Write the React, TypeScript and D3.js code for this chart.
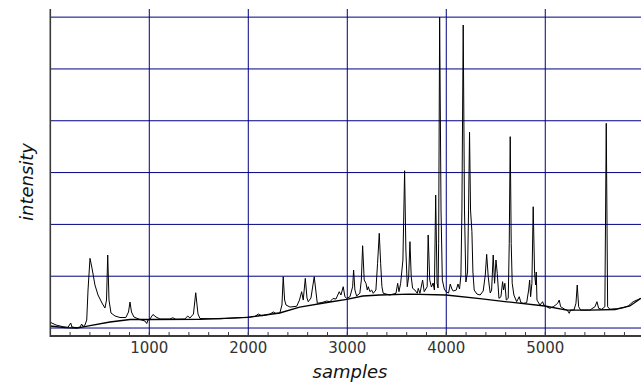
import * as d3 from "d3";

// spectrum: [sample, intensity]
const spectrum: [number, number][] = [
  [0, 110], [58, 58], [128, 25], [179, 14], [206, 97], [219, 19], [270, 6], [300, 19], [317, 77], [330, 29],
  [350, 58], [368, 154], [381, 733], [401, 1345], [421, 1158], [451, 830], [482, 637], [522, 483], [552, 386],
  [568, 540], [580, 1409], [593, 540], [613, 290], [654, 232], [704, 203], [763, 203], [790, 309], [805, 502],
  [820, 309], [845, 212], [906, 164], [956, 135], [974, 87], [987, 154], [1007, 174], [1037, 261], [1068, 212],
  [1108, 174], [1207, 174], [1237, 197], [1268, 170], [1359, 174], [1388, 232], [1411, 193], [1446, 270],
  [1469, 681], [1492, 270], [1512, 183], [1714, 178], [1916, 200], [2017, 212], [2067, 222], [2101, 270],
  [2138, 235], [2219, 268], [2252, 310], [2280, 280], [2319, 292], [2340, 444], [2353, 990], [2367, 540],
  [2381, 444], [2421, 405], [2489, 419], [2517, 540], [2539, 701], [2555, 540], [2576, 959], [2593, 579],
  [2606, 508], [2633, 579], [2666, 990], [2697, 477], [2744, 492], [2792, 521], [2825, 508], [2855, 569],
  [2886, 560], [2919, 701], [2936, 637], [2959, 797], [2976, 604], [2994, 573], [3027, 604], [3054, 797],
  [3064, 1119], [3077, 733], [3094, 618], [3127, 670], [3142, 926], [3155, 1588], [3171, 926], [3189, 863],
  [3202, 733], [3212, 797], [3229, 701], [3246, 733], [3262, 670], [3289, 733], [3306, 1249], [3323, 1828],
  [3337, 1249], [3350, 797], [3363, 670], [3431, 637], [3492, 670], [3509, 863], [3522, 701], [3539, 863],
  [3562, 1312], [3579, 3036], [3592, 1505], [3606, 797], [3620, 990], [3633, 1666], [3646, 990], [3660, 766],
  [3683, 733], [3707, 670], [3717, 766], [3734, 670], [3761, 926], [3777, 701], [3807, 797], [3817, 1795],
  [3833, 926], [3850, 791], [3867, 869], [3880, 733], [3893, 2567], [3907, 869], [3917, 772], [3923, 1635],
  [3933, 5997], [3947, 2277], [3960, 926], [3980, 753], [4000, 695], [4023, 676], [4040, 849], [4057, 753],
  [4070, 714], [4101, 733], [4118, 849], [4134, 753], [4148, 1023], [4158, 2277], [4171, 5848], [4184, 2277],
  [4198, 888], [4215, 1081], [4225, 2277], [4235, 3777], [4245, 2277], [4259, 1859], [4269, 1081], [4282, 733],
  [4309, 656], [4342, 637], [4373, 714], [4394, 1023], [4408, 1422], [4424, 984], [4433, 830], [4444, 676],
  [4458, 733], [4474, 1409], [4488, 863], [4502, 1313], [4515, 1056], [4532, 573], [4552, 604], [4569, 894],
  [4579, 733], [4592, 863], [4606, 540], [4626, 573], [4636, 1635], [4646, 3693], [4656, 1635], [4666, 863],
  [4683, 637], [4711, 508], [4737, 604], [4754, 488], [4777, 477], [4812, 488], [4832, 733], [4842, 926],
  [4852, 604], [4865, 863], [4878, 2341], [4892, 1056], [4903, 830], [4909, 1081], [4916, 540], [4946, 444],
  [4973, 508], [4986, 444], [5014, 411], [5047, 380], [5080, 411], [5105, 444], [5125, 477], [5141, 540],
  [5155, 411], [5198, 361], [5222, 347], [5242, 284], [5256, 347], [5290, 347], [5310, 477], [5323, 830],
  [5337, 411], [5357, 347], [5451, 347], [5502, 411], [5522, 508], [5539, 380], [5569, 361], [5602, 411],
  [5616, 3951], [5630, 411], [5653, 361], [5721, 373], [5787, 392], [5838, 425], [5888, 508], [5966, 573],
];

// fitted baseline under the spectrum
const baseline: [number, number][] = [
  [0, 39], [148, 6], [270, 0], [401, 48], [603, 116], [805, 164], [1007, 164], [1512, 168], [1997, 207],
  [2317, 290], [2519, 405], [2825, 502], [2994, 554], [3156, 618], [3328, 637], [3631, 656], [3996, 637],
  [4340, 569], [4592, 511], [4996, 425], [5216, 347], [5451, 347], [5704, 357], [5855, 425], [5966, 573],
];

const xTicks = [1000, 2000, 3000, 4000, 5000];
const yGrid = [0, 1000, 2000, 3000, 4000, 5000, 6000];

const W = 641;
const H = 383;
const m = { left: 50.3, right: 0, top: 9, bottom: 47 };

export default function App() {
  const x = d3.scaleLinear().domain([0, 5967]).range([m.left, W - m.right]);
  const y = d3.scaleLinear().domain([-154, 6157]).range([H - m.bottom, m.top]);

  const line = d3.line<[number, number]>()
    .x(d => x(d[0]))
    .y(d => y(d[1]));

  const minor = d3.range(200, 5967, 200);
  const axisY = H - m.bottom;

  return (
    <svg width={W} height={H} style={{ position: "absolute", left: 0, top: 0, background: "#fff" }}>
      {/* grid */}
      <g stroke="#000080" strokeWidth={1}>
        {yGrid.map(v => (
          <line key={"h" + v} x1={m.left} x2={W} y1={y(v)} y2={y(v)} />
        ))}
        {xTicks.map(v => (
          <line key={"v" + v} x1={x(v)} x2={x(v)} y1={m.top} y2={axisY} />
        ))}
      </g>

      {/* data */}
      <path d={line(baseline) ?? ""} fill="none" stroke="#000" strokeWidth={1.3} />
      <path d={line(spectrum) ?? ""} fill="none" stroke="#000" strokeWidth={1} strokeLinejoin="round" />

      {/* axes */}
      <g stroke="#3a3a3a">
        <line x1={m.left} x2={m.left} y1={m.top} y2={axisY + 1} strokeWidth={1.6} />
        <line x1={m.left} x2={W} y1={axisY} y2={axisY} strokeWidth={2} />
        {minor.map(v => (
          <line key={"t" + v} x1={x(v)} x2={x(v)} y1={axisY} y2={axisY - 4} strokeWidth={1} />
        ))}
      </g>
      <g fontFamily="DejaVu Sans" fontSize={15} fill="#333" textAnchor="middle">
        {xTicks.map(v => (
          <text key={"l" + v} x={x(v)} y={353.3}>{v}</text>
        ))}
      </g>
      <text x={350} y={378} textAnchor="middle" fontFamily="DejaVu Sans" fontStyle="italic" fontSize={18} fill="#111">
        samples
      </text>
      <text transform="translate(33,182) rotate(-90)" textAnchor="middle" fontFamily="DejaVu Sans" fontStyle="italic" fontSize={18} fill="#111">
        intensity
      </text>
    </svg>
  );
}
